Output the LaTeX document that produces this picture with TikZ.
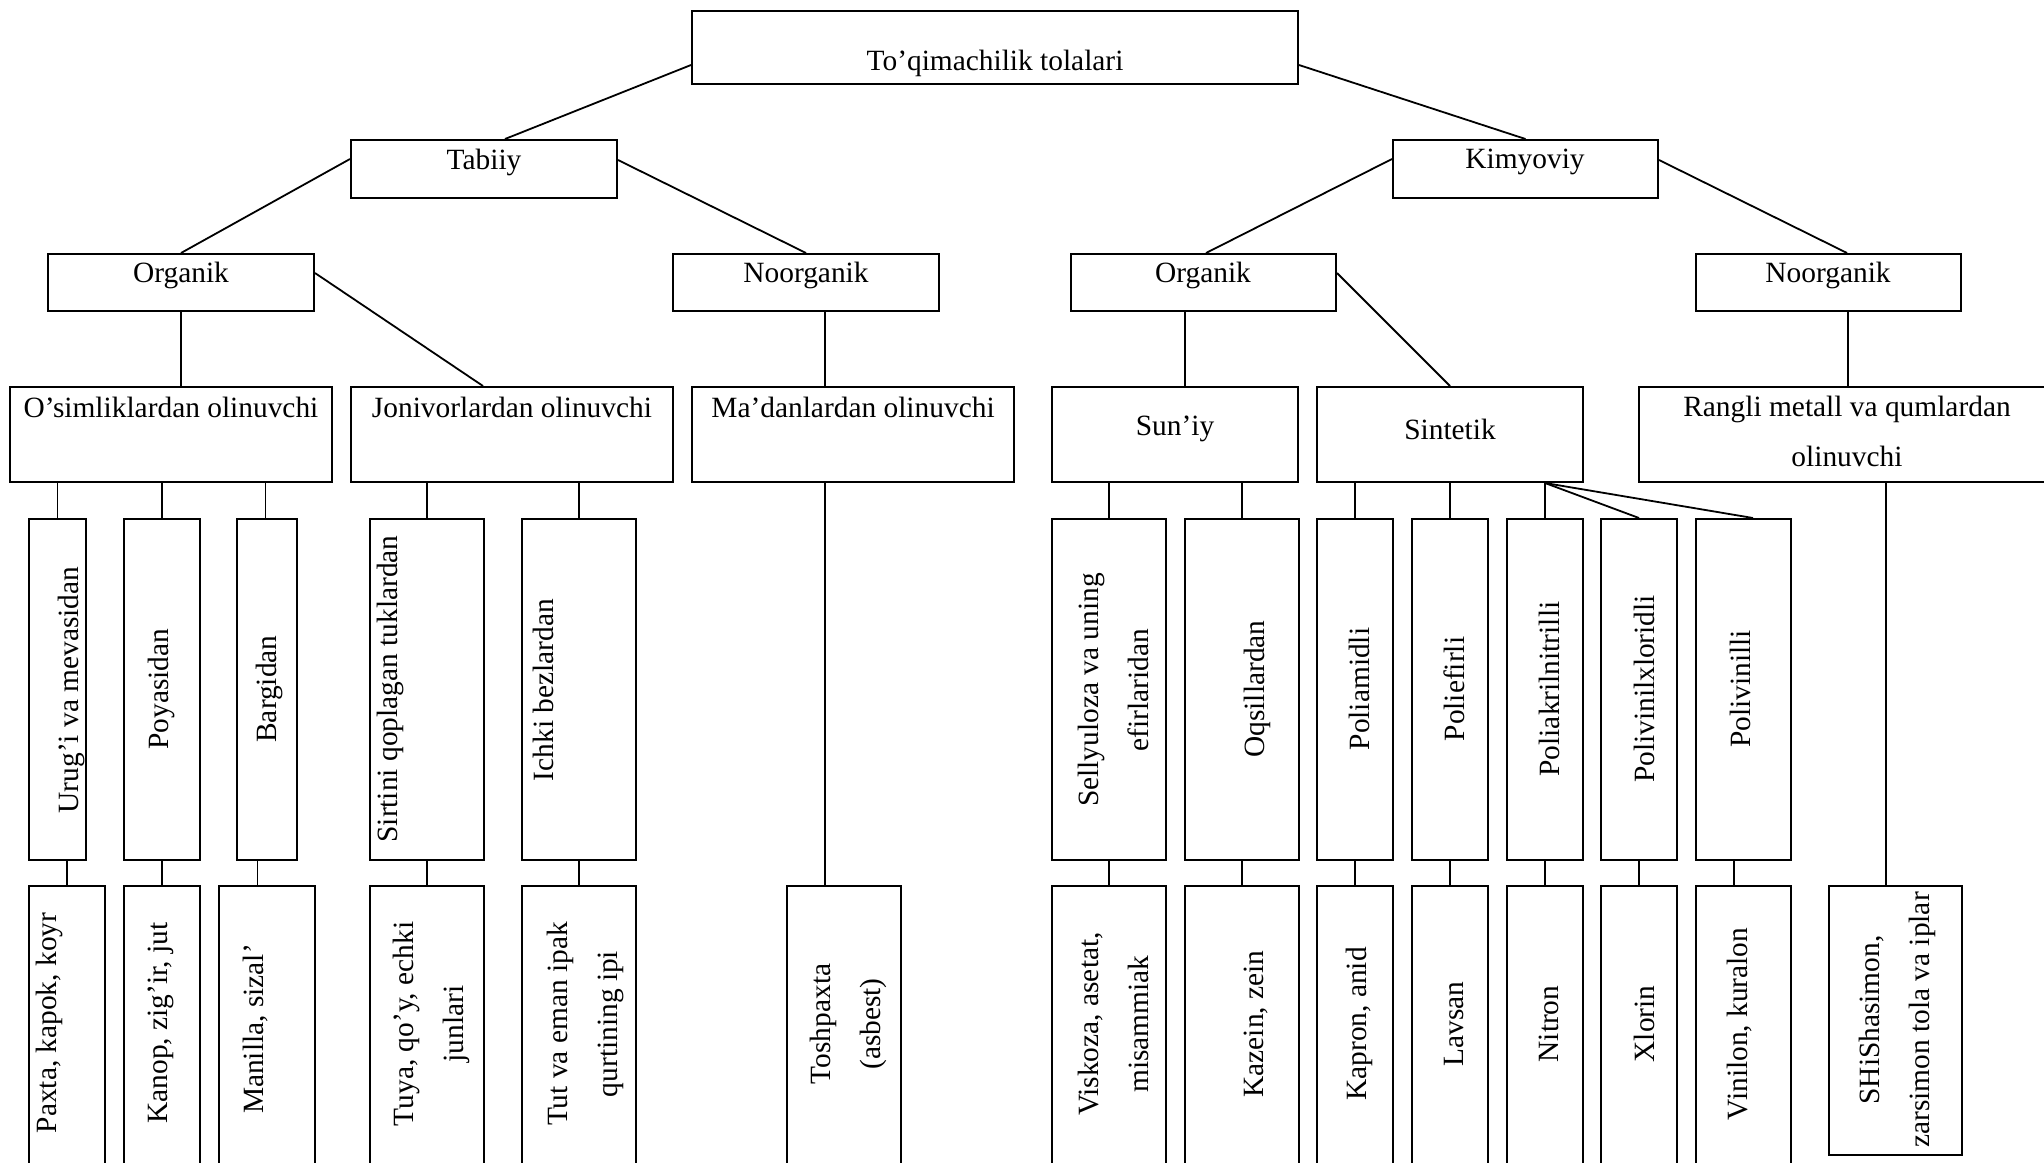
\documentclass[tikz,border=0pt]{standalone}
\usepackage{fontspec}
\setmainfont{Liberation Serif}
\usetikzlibrary{calc}
\tikzset{
  bx/.style={draw, line width=1pt, inner sep=0pt, rectangle},
  con/.style={line width=0.9pt},
  txt/.style={inner sep=0pt, align=center, font=\fontsize{14.7}{25}\selectfont},
  vtxt/.style={txt, rotate=90}
}
\newcommand\mkbox[5]{\node[bx, minimum width={(#4-#2)*0.5pt}, minimum height={(#5-#3)*0.5pt}] (#1) at ({(#2+#4)/2},{(#3+#5)/2}) {};}
\begin{document}
\begin{tikzpicture}[x=0.5pt,y=-0.5pt]
\useasboundingbox (0,0) rectangle (2044,1162);
\clip (0,0) rectangle (2044,1162);
% level 0-2
\mkbox{top}{692}{11}{1298}{84}
\mkbox{tabiiy}{351}{140}{617}{198}
\mkbox{kimyo}{1393}{140}{1658}{198}
\mkbox{orgA}{48}{254}{314}{311}
\mkbox{noorgA}{673}{254}{939}{311}
\mkbox{orgB}{1071}{254}{1336}{311}
\mkbox{noorgB}{1696}{254}{1961}{311}
% level 3
\mkbox{osim}{10}{387}{332}{482}
\mkbox{jon}{351}{387}{673}{482}
\mkbox{madan}{692}{387}{1014}{482}
\mkbox{suniy}{1052}{387}{1298}{482}
\mkbox{sint}{1317}{387}{1583}{482}
\mkbox{rangli}{1639}{387}{2055}{482}
% level 4
\mkbox{urug}{29}{519}{86}{860}
\mkbox{poy}{124}{519}{200}{860}
\mkbox{barg}{237}{519}{297}{860}
\mkbox{sirt}{370}{519}{484}{860}
\mkbox{ichki}{522}{519}{636}{860}
\mkbox{sell}{1052}{519}{1166}{860}
\mkbox{oqsil}{1185}{519}{1299}{860}
\mkbox{pamid}{1317}{519}{1393}{860}
\mkbox{pefir}{1412}{519}{1488}{860}
\mkbox{pakril}{1507}{519}{1583}{860}
\mkbox{pvx}{1601}{519}{1677}{860}
\mkbox{pvin}{1696}{519}{1791}{860}
% level 5
\mkbox{paxta}{29}{886}{105}{1172}
\mkbox{kanop}{124}{886}{200}{1172}
\mkbox{manil}{219}{886}{315}{1172}
\mkbox{tuya}{370}{886}{484}{1172}
\mkbox{tut}{522}{886}{636}{1172}
\mkbox{tosh}{787}{886}{901}{1172}
\mkbox{visk}{1052}{886}{1166}{1172}
\mkbox{kazein}{1185}{886}{1299}{1172}
\mkbox{kapron}{1317}{886}{1393}{1172}
\mkbox{lavsan}{1412}{886}{1488}{1172}
\mkbox{nitron}{1507}{886}{1583}{1172}
\mkbox{xlorin}{1601}{886}{1677}{1172}
\mkbox{vinil}{1696}{886}{1791}{1172}
\mkbox{shisha}{1829}{886}{1962}{1155}

% horizontal texts
\node[txt] (t0) at (995,63) {To’qimachilik tolalari};
\node[txt] (t1) at (484,162) {Tabiiy};
\node[txt] (t2) at (1525,162) {Kimyoviy};
\node[txt] (t3) at (181,275) {Organik};
\node[txt] (t4) at (806,275) {Noorganik};
\node[txt] (t5) at (1203,275) {Organik};
\node[txt] (t6) at (1828,275) {Noorganik};
\node[txt] (t7) at (171,407) {O’simliklardan olinuvchi};
\node[txt] (t8) at (512,407) {Jonivorlardan olinuvchi};
\node[txt] (t9) at (853,407) {Ma’danlardan olinuvchi};
\node[txt] (t10) at (1175,429) {Sun’iy};
\node[txt] (t11) at (1450,429) {Sintetik};
\node[txt] (t12) at (1847,431) {Rangli metall va qumlardan\\olinuvchi};

% vertical texts, level 4
\node[vtxt] (v1) at (71,690) {Urug’i va mevasidan};
\node[vtxt] (v2) at (161,689) {Poyasidan};
\node[vtxt] (v3) at (269,689) {Bargidan};
\node[vtxt] (v4) at (390,689) {Sirtini qoplagan tuklardan};
\node[vtxt] (v5) at (543,690) {Ichki bezlardan};
\node[vtxt] (v6) at (1113,690) {Sellyuloza va uning\\efirlaridan};
\node[vtxt] (v7) at (1257,689) {Oqsillardan};
\node[vtxt] (v8) at (1359,689) {Poliamidli};
\node[vtxt] (v9) at (1454,689) {Poliefirli};
\node[vtxt] (v10) at (1549,689) {Poliakrilnitrilli};
\node[vtxt] (v11) at (1644,689) {Polivinilxloridli};
\node[vtxt] (v12) at (1740,689) {Polivinilli};

% vertical texts, level 5
\node[vtxt] (w1) at (49,1023) {Paxta, kapok, koyr};
\node[vtxt] (w2) at (161,1023) {Kanop, zig’ir, jut};
\node[vtxt] (w3) at (256,1029) {Manilla, sizal’};
\node[vtxt] (w4) at (431,1024) {Tuya, qo’y, echki\\junlari};
\node[vtxt] (w5) at (585,1024) {Tut va eman ipak\\qurtining ipi};
\node[vtxt] (w6) at (848,1024) {Toshpaxta\\(asbest)};
\node[vtxt] (w7) at (1113,1024) {Viskoza, asetat,\\misammiak};
\node[vtxt] (w8) at (1256,1024) {Kazein, zein};
\node[vtxt] (w9) at (1359,1024) {Kapron, anid};
\node[vtxt] (w10) at (1454,1024) {Lavsan};
\node[vtxt] (w11) at (1549,1024) {Nitron};
\node[vtxt] (w12) at (1644,1024) {Xlorin};
\node[vtxt] (w13) at (1740,1024) {Vinilon, kuralon};
\node[vtxt] (w14) at (1897,1020) {SHiShasimon,\\zarsimon tola va iplar};

% helper coordinates
\coordinate (oAs) at (orgA.south);
\coordinate (nAs) at ([xshift=9.5pt]noorgA.south);
\coordinate (oBs) at ([xshift=-9.25pt]orgB.south);
\coordinate (nBs) at ([xshift=9.75pt]noorgB.south);
\coordinate (rgs) at ([xshift=-4.75pt]shisha.north);
\coordinate (fan) at (pakril.north |- sint.south);

% connectors, upper levels
\draw[con] ([yshift=-8.75pt]top.west) -- ([xshift=10.5pt]tabiiy.north);
\draw[con] ([yshift=-8.75pt]top.east) -- (kimyo.north);
\draw[con] ([yshift=5pt]tabiiy.west) -- (orgA.north);
\draw[con] ([yshift=4.5pt]tabiiy.east) -- (noorgA.north);
\draw[con] ([yshift=5pt]kimyo.west) -- ([xshift=1.25pt]orgB.north);
\draw[con] ([yshift=4.5pt]kimyo.east) -- ([xshift=9.25pt]noorgB.north);
\draw[con] (oAs) -- (oAs |- osim.north);
\draw[con] ([yshift=4.75pt]orgA.east) -- ([xshift=-14.5pt]jon.north);
\draw[con] (nAs) -- (nAs |- madan.north);
\draw[con] (oBs) -- (oBs |- suniy.north);
\draw[con] ([yshift=4.75pt]orgB.east) -- (sint.north);
\draw[con] (nBs) -- (nBs |- rangli.north);

% level 3 -> 4
\draw[con] (urug.north) -- (urug.north |- osim.south);
\draw[con] (poy.north) -- (poy.north |- osim.south);
\draw[con] ([xshift=-0.75pt]barg.north) -- ([xshift=-0.75pt]barg.north |- osim.south);
\draw[con] (sirt.north) -- (sirt.north |- jon.south);
\draw[con] (ichki.north) -- (ichki.north |- jon.south);
\draw[con] (sell.north) -- (sell.north |- suniy.south);
\draw[con] (oqsil.north) -- (oqsil.north |- suniy.south);
\draw[con] (pamid.north) -- (pamid.north |- sint.south);
\draw[con] (pefir.north) -- (pefir.north |- sint.south);
\draw[con] (pakril.north) -- (fan);
\draw[con] (fan) -- (pvx.north);
\draw[con] (fan) -- ([xshift=4.75pt]pvin.north);

% level 4 -> 5
\draw[con] (paxta.north) -- (paxta.north |- urug.south);
\draw[con] (kanop.north) -- (kanop.north |- poy.south);
\draw[con] ([xshift=-4.75pt]manil.north) -- ([xshift=-4.75pt]manil.north |- barg.south);
\draw[con] (tuya.north) -- (tuya.north |- sirt.south);
\draw[con] (tut.north) -- (tut.north |- ichki.south);
\draw[con] (nAs |- madan.south) -- (nAs |- tosh.north);
\draw[con] (visk.north) -- (visk.north |- sell.south);
\draw[con] (kazein.north) -- (kazein.north |- oqsil.south);
\draw[con] (kapron.north) -- (kapron.north |- pamid.south);
\draw[con] (lavsan.north) -- (lavsan.north |- pefir.south);
\draw[con] (nitron.north) -- (nitron.north |- pakril.south);
\draw[con] (xlorin.north) -- (xlorin.north |- pvx.south);
\draw[con] ([xshift=-4.75pt]vinil.north) -- ([xshift=-4.75pt]vinil.north |- pvin.south);
\draw[con] (rgs) -- (rgs |- rangli.south);
\end{tikzpicture}
\end{document}
